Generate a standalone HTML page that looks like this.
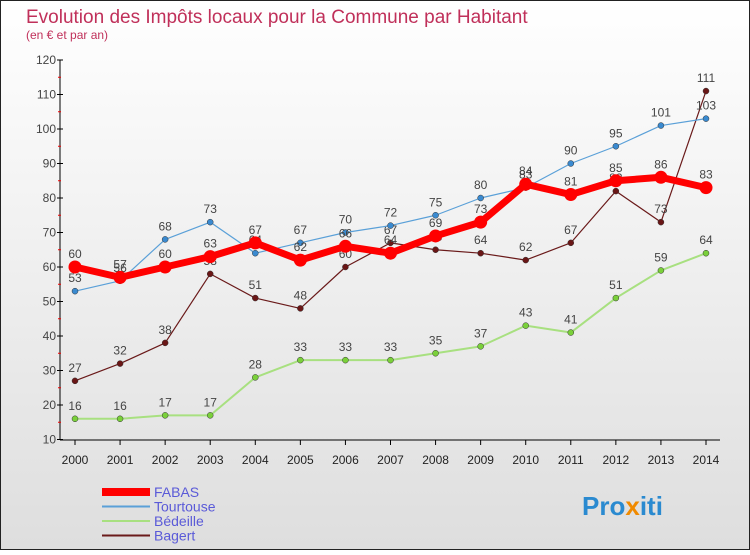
<!DOCTYPE html>
<html><head><meta charset="utf-8"><style>
body{margin:0;width:750px;height:550px;overflow:hidden;font-family:"Liberation Sans",sans-serif}
</style></head><body>
<svg id="c" width="750" height="550" xmlns="http://www.w3.org/2000/svg">
<defs><linearGradient id="bg" x1="0" y1="0" x2="0" y2="1"><stop offset="0" stop-color="#ffffff"/><stop offset="1" stop-color="#dedede"/></linearGradient></defs>
<rect x="0.5" y="0.5" width="749" height="549" fill="url(#bg)" stroke="#222"/>
<text x="26" y="23" font-size="19" fill="#c0305a">Evolution des Impôts locaux pour la Commune par Habitant</text>
<text x="26" y="39" font-size="12" fill="#c0305a">(en € et par an)</text>
<g id="axes"></g><g id="series"></g><g id="legend"></g>
<text x="582" y="515" font-size="26" font-weight="bold" fill="#2a8ad0">Pro<tspan fill="#f08a00">x</tspan>iti</text>
</svg>
<script>
const years=[2000,2001,2002,2003,2004,2005,2006,2007,2008,2009,2010,2011,2012,2013,2014];
const yTicks=[10,20,30,40,50,60,70,80,90,100,110,120];
const fabas=[60,57,60,63,67,62,66,64,69,73,84,81,85,86,83];
const tourtouse=[53,56,68,73,64,67,70,72,75,80,83,90,95,101,103];
const bedeille=[16,16,17,17,28,33,33,33,35,37,43,41,51,59,64];
const bagert=[27,32,38,58,51,48,60,67,65,64,62,67,82,73,111];
const NS="http://www.w3.org/2000/svg";
const X=i=>75+i*(706-75)/14, Y=v=>439.5-(v-10)*(379.5/110);
function el(t,a,p){const e=document.createElementNS(NS,t);for(const k in a)e.setAttribute(k,a[k]);p.appendChild(e);return e;}
const ax=document.getElementById('axes');
const ya=el('line',{x1:60,y1:60,x2:60,y2:440,stroke:'#000'},ax);


const xa=el('line',{x1:60,y1:440,x2:720,y2:440,stroke:'#000'},ax);


yTicks.forEach(v=>{el('line',{x1:57,y1:Y(v),x2:63,y2:Y(v),stroke:'#000'},ax);
 if(v<120)el('line',{x1:58,y1:Y(v+5),x2:61,y2:Y(v+5),stroke:'#e00'},ax);
 const t=el('text',{x:56,y:Y(v)+4,'font-size':12,'text-anchor':'end',fill:'#444'},ax);t.textContent=v;
 
 });
years.forEach((y,i)=>{el('line',{x1:X(i),y1:440,x2:X(i),y2:445,stroke:'#000'},ax);
 const t=el('text',{x:X(i),y:464,'font-size':12,'text-anchor':'middle',fill:'#222'},ax);t.textContent=y;
 
 });
const S=document.getElementById('series');
function draw(name,vals,col,w,r,dot){const g=el('g',{},S);
 
 
 el('polyline',{points:vals.map((v,i)=>X(i)+','+Y(v)).join(' '),fill:'none',stroke:col,'stroke-width':w,'stroke-linejoin':'round'},g);
 vals.forEach((v,i)=>{const c=el('circle',{cx:X(i),cy:Y(v),r:r,fill:dot,stroke:'#333','stroke-width':r>5?0:0.5},g);
  
  
  const t=el('text',{x:X(i),y:Y(v)-9,'font-size':12,'text-anchor':'middle',fill:'#444'},g);t.textContent=v;
  
  });}
draw('bedeille',bedeille,'#a8e080',2,3,'#7ad03a');
draw('bagert',bagert,'#6a1a1a',1.2,3,'#6a1616');
draw('tourtouse',tourtouse,'#5aa0d8',1.2,3,'#3a8ad0');
draw('fabas',fabas,'#f00',7,6.5,'#f00');
const L=document.getElementById('legend');
[['FABAS','#f00',8],['Tourtouse','#5aa0d8',2],['Bédeille','#a8e080',2],['Bagert','#6a1a1a',2]].forEach((d,i)=>{
 const g=el('g',{},L);
 const y=492+i*14.5;el('line',{x1:102,y1:y,x2:150,y2:y,stroke:d[1],'stroke-width':d[2]},g);
 const t=el('text',{x:154,y:y+5,'font-size':14,fill:'#5a5ad8'},g);t.textContent=d[0];});
</script>
</body></html>
